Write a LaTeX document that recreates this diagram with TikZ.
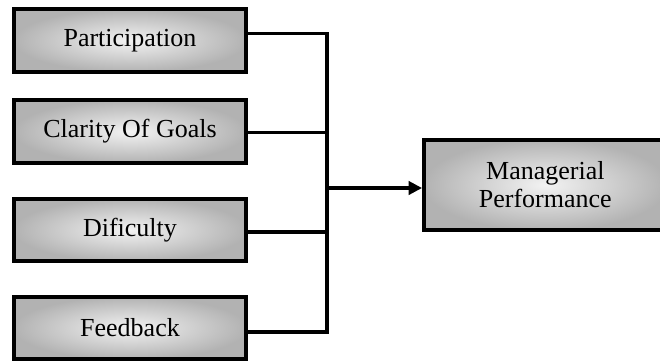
\documentclass[tikz,border=0pt]{standalone}
\usepackage{fontspec}
\setmainfont{Liberation Serif}
\usetikzlibrary{arrows.meta}

\begin{document}
\begin{tikzpicture}[x=0.75pt,y=-0.75pt,
    box/.style={rectangle,draw,line width=3pt,inner color=white!95!black,outer color=black!30,
        minimum width=174pt,minimum height=47pt,font=\fontsize{19.5}{21}\selectfont,align=center},
    conn/.style={line width=2.3pt}]
\useasboundingbox (0,0) rectangle (660,362);

\begin{scope}[every node/.style={box}]
    \node (part) at (130,40.5){Participation};
    \node (clar) at (130,131.5){Clarity Of Goals};
    \node (dif) at (130,230){Dificulty};
    \node (feed) at (130,328){Feedback};
    \node[minimum width=182pt,minimum height=68pt,anchor=west] (mp) at (422,185){Managerial\\Performance};
\end{scope}

    \coordinate (j) at (327,188);

    \draw[conn] ([yshift=5pt]part.east) -| (j);
    \draw[conn] ([yshift=-1pt]clar.east) -| (j);
    \draw[conn] ([yshift=-1.5pt]dif.east) -| (j);
    \draw[conn] ([yshift=-3pt]feed.east) -| (j);

    \draw[conn,-{Triangle[length=10pt,width=10pt]}] (j) -- (j -| mp.west);

\end{tikzpicture}
\end{document}
